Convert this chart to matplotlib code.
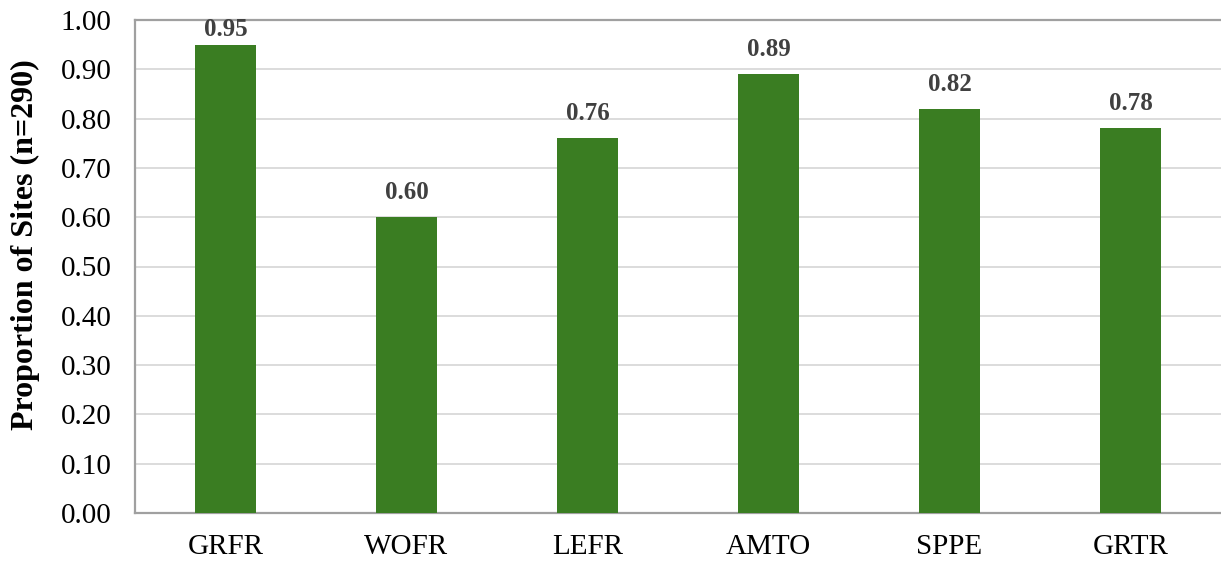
import matplotlib
matplotlib.use("Agg")
import matplotlib.pyplot as plt

categories = ["GRFR", "WOFR", "LEFR", "AMTO", "SPPE", "GRTR"]
proportions = [0.95, 0.60, 0.76, 0.89, 0.82, 0.78]
y_ticks = [0.0, 0.1, 0.2, 0.3, 0.4, 0.5, 0.6, 0.7, 0.8, 0.9, 1.0]

plt.rcParams["font.family"] = ["Liberation Serif", "DejaVu Serif"]

fig = plt.figure(figsize=(12.21, 5.63), dpi=100)
ax = fig.add_axes([135 / 1221, 1 - 513 / 563, 1 - 135 / 1221, (513 - 20) / 563])

x = list(range(len(categories)))
ax.bar(x, proportions, width=0.34, color="#3A7D22", zorder=3)

for xi, v in zip(x, proportions):
    ax.text(xi, min(v + 0.05, 0.98), f"{v:.2f}", ha="center", va="center",
            fontsize=18, fontweight="bold", color="#404040", zorder=4)

ax.set_xlim(-0.5, len(categories) - 0.5)
ax.set_ylim(0, 1.0)
ax.set_yticks(y_ticks)
ax.set_yticklabels([f"{t:.2f}" for t in y_ticks])
ax.set_xticks(x)
ax.set_xticklabels(categories)
ax.tick_params(axis="both", length=0, labelsize=21, colors="black")
ax.tick_params(axis="y", pad=17)
ax.tick_params(axis="x", pad=15)

ax.yaxis.grid(True, color="#d9d9d9", linewidth=1.3, zorder=0)
ax.set_axisbelow(True)
for side in ["left", "bottom", "top"]:
    ax.spines[side].set_color("#a0a0a0")
    ax.spines[side].set_linewidth(1.6)
ax.spines["right"].set_visible(False)

ax.set_ylabel("Proportion of Sites (n=290)", fontsize=23, fontweight="bold")
ax.yaxis.set_label_coords(-0.0875, 0.544)

fig.savefig("out.png", dpi=100)
